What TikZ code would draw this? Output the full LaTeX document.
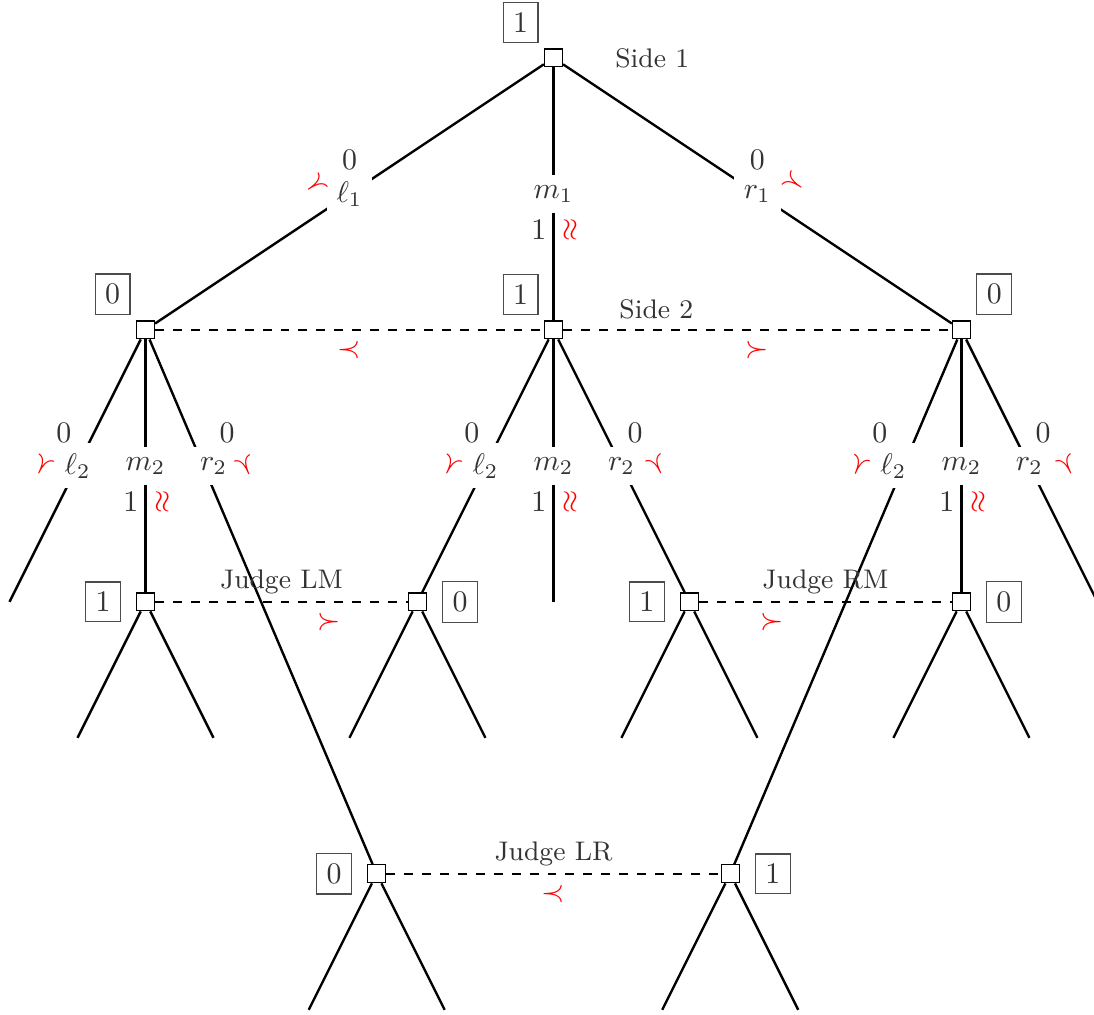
\documentclass[tikz,border=0pt]{standalone}
\usetikzlibrary{positioning}
\begin{document}
\begin{tikzpicture}[x=1.6cm,y=1.6cm,
    dec/.style={draw,fill=white,minimum size=6pt,inner sep=0pt},
    plbox/.style={draw=black!70,text=black!80},
    act/.style={fill=white,text=black!80},
    pay/.style={text=black!80},
    pref/.style={text=red},
    infoset/.style={thick,dashed},
    grp/.style={text=black!80,font=\small}]
  \useasboundingbox (-4.07,0.426) rectangle (3.975,-7.037);
  % decision nodes
  \node[dec] (root) at (0,0) {};
  \node[dec] (L) at (-3,-2) {};
  \node[dec] (M) at (0,-2) {};
  \node[dec] (R) at (3,-2) {};
  \node[dec] (LM) at (-3,-4) {};
  \node[dec] (ML) at (-1,-4) {};
  \node[dec] (MR) at (1,-4) {};
  \node[dec] (RM) at (3,-4) {};
  \node[dec] (LR) at (-1.3,-6) {};
  \node[dec] (RL) at (1.3,-6) {};
  % ends
  \coordinate (LL) at (-4,-4);
  \coordinate (MM) at (0,-4);
  \coordinate (RR) at (4,-4);
  \coordinate (LMa) at (-3.5,-5);
  \coordinate (LMb) at (-2.5,-5);
  \coordinate (MLa) at (-1.5,-5);
  \coordinate (MLb) at (-0.5,-5);
  \coordinate (MRa) at (0.5,-5);
  \coordinate (MRb) at (1.5,-5);
  \coordinate (RMa) at (2.5,-5);
  \coordinate (RMb) at (3.5,-5);
  \coordinate (LRa) at (-1.8,-7);
  \coordinate (LRb) at (-0.8,-7);
  \coordinate (RLa) at (0.8,-7);
  \coordinate (RLb) at (1.8,-7);
  \begin{scope}[thick]
    \draw (root) -- (L);
    \draw (root) -- (M);
    \draw (root) -- (R);
    \draw (L) -- (LL);
    \draw (L) -- (LM);
    \draw (L) -- (LR);
    \draw (M) -- (ML);
    \draw (M) -- (MM);
    \draw (M) -- (MR);
    \draw (R) -- (RL);
    \draw (R) -- (RM);
    \draw (R) -- (RR);
    \draw (LM) -- (LMa);
    \draw (LM) -- (LMb);
    \draw (ML) -- (MLa);
    \draw (ML) -- (MLb);
    \draw (MR) -- (MRa);
    \draw (MR) -- (MRb);
    \draw (RM) -- (RMa);
    \draw (RM) -- (RMb);
    \draw (LR) -- (LRa);
    \draw (LR) -- (LRb);
    \draw (RL) -- (RLa);
    \draw (RL) -- (RLb);
  \end{scope}
  % information sets
  \draw[infoset] (L) -- node[pref,below] (s2a) {$\prec$} (M)
    -- node[grp,above,pos=0.24] (side2) {Side 2} node[pref,below] (s2b) {$\succ$} (R);
  \draw[infoset] (LM) -- node[grp,above,yshift=-1.2pt] (jlm) {Judge LM}
    node[pref,below,pos=0.69] (jlmp) {$\succ$} (ML);
  \draw[infoset] (MR) -- node[grp,above,yshift=-1.2pt] (jrm) {Judge RM}
    node[pref,below,pos=0.29] (jrmp) {$\succ$} (RM);
  \draw[infoset] (LR) -- node[grp,above,yshift=-1.2pt] (jlr) {Judge LR}
    node[pref,below] (jlrp) {$\prec$} (RL);
  \node[grp,right=14pt of root] (side1) {Side 1};
  % players
  \node[plbox,above left=2.5pt of root] (p0) {1};
  \node[plbox,above left=2.5pt of L] (pL) {0};
  \node[plbox,above left=2.5pt of M] (pM) {1};
  \node[plbox,above right=2.5pt of R] (pR) {0};
  \node[plbox,left=5pt of LM] (pLM) {1};
  \node[plbox,right=5pt of ML] (pML) {0};
  \node[plbox,left=5pt of MR] (pMR) {1};
  \node[plbox,right=5pt of RM] (pRM) {0};
  \node[plbox,left=5pt of LR] (pLR) {0};
  \node[plbox,right=5pt of RL] (pRL) {1};
  % actions, side 1
  \node[act] (l1) at (-1.5,-1) {$\ell_1$};
  \node[act] (m1) at (0,-1) {$m_1$};
  \node[act] (r1) at (1.5,-1) {$r_1$};
  \node[pay] (l1v) at (-1.5,-0.75) {0};
  \node[pay] (m1v) at (-0.107,-1.265) {1};
  \node[pay] (r1v) at (1.5,-0.75) {0};
  \node[pref,rotate=33.69] (l1p) at (-1.746,-0.934) {$\prec$};
  \node[pref,rotate=90] (m1p) at (0.129,-1.265) {$\approx$};
  \node[pref,rotate=-33.69] (r1p) at (1.768,-0.919) {$\succ$};
  % actions, side 2
  \node[act] (Ll2) at (-3.5,-3) {$\ell_2$};
  \node[act] (Lm2) at (-3,-3) {$m_2$};
  \node[act] (Lr2) at (-2.5,-3) {$r_2$};
  \node[act] (Ml2) at (-0.5,-3) {$\ell_2$};
  \node[act] (Mm2) at (0,-3) {$m_2$};
  \node[act] (Mr2) at (0.5,-3) {$r_2$};
  \node[act] (Rl2) at (2.5,-3) {$\ell_2$};
  \node[act] (Rm2) at (3,-3) {$m_2$};
  \node[act] (Rr2) at (3.5,-3) {$r_2$};
  \node[pay] (Ll2v) at (-3.6,-2.757) {0};
  \node[pay] (Lr2v) at (-2.4,-2.757) {0};
  \node[pay] (Ml2v) at (-0.6,-2.757) {0};
  \node[pay] (Mr2v) at (0.6,-2.757) {0};
  \node[pay] (Rl2v) at (2.4,-2.757) {0};
  \node[pay] (Rr2v) at (3.6,-2.757) {0};
  \node[pay] (Lm2v) at (-3.107,-3.265) {1};
  \node[pay] (Mm2v) at (-0.107,-3.265) {1};
  \node[pay] (Rm2v) at (2.893,-3.265) {1};
  \node[pref,rotate=63.43] (Ll2p) at (-3.754,-3) {$\prec$};
  \node[pref,rotate=90] (Lm2p) at (-2.871,-3.265) {$\approx$};
  \node[pref,rotate=-67] (Lr2p) at (-2.261,-3) {$\succ$};
  \node[pref,rotate=63.43] (Ml2p) at (-0.754,-3) {$\prec$};
  \node[pref,rotate=90] (Mm2p) at (0.129,-3.265) {$\approx$};
  \node[pref,rotate=-63.43] (Mr2p) at (0.761,-3) {$\succ$};
  \node[pref,rotate=67] (Rl2p) at (2.246,-3) {$\prec$};
  \node[pref,rotate=90] (Rm2p) at (3.129,-3.265) {$\approx$};
  \node[pref,rotate=-63.43] (Rr2p) at (3.776,-3) {$\succ$};
\end{tikzpicture}
\end{document}
